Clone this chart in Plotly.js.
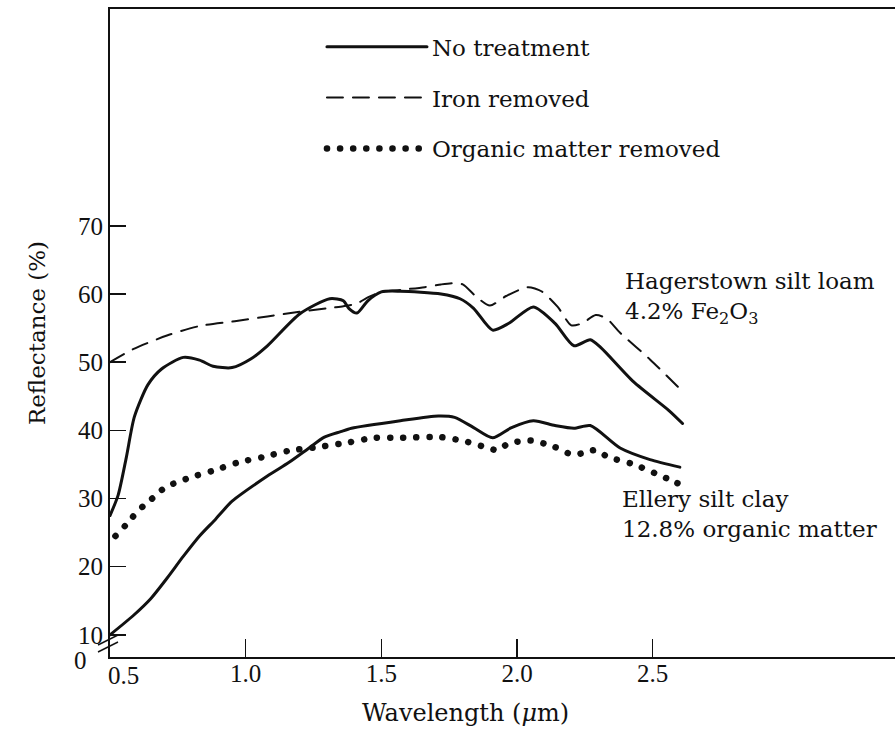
<!DOCTYPE html>
<html>
<head>
<meta charset="utf-8">
<script src="https://cdn.plot.ly/plotly-3.0.1.min.js"></script>
<style>
  body { margin: 0; background: #fff; }
  .trace path.js-line, .legendlines path { stroke-linecap: round; stroke-linejoin: round; }
</style>
</head>
<body>
<div id="plot" style="width:895px;height:732px;"></div>
<script>
// Hagerstown silt loam, no treatment
var hagerNoneX = [0.50, 0.53, 0.56, 0.59, 0.64, 0.69, 0.77, 0.83, 0.88, 0.95, 1.02, 1.08, 1.20, 1.31, 1.36, 1.38, 1.41, 1.45, 1.50, 1.57, 1.72, 1.79, 1.84, 1.91, 1.97, 2.06, 2.14, 2.21, 2.27, 2.31, 2.43, 2.56, 2.61];
var hagerNoneY = [27.5, 30.5, 36, 42, 46.7, 49, 50.7, 50.3, 49.4, 49.2, 50.5, 52.4, 57.1, 59.3, 59, 57.9, 57.2, 59, 60.3, 60.4, 60, 59.3, 57.9, 54.7, 55.7, 58.1, 55.7, 52.4, 53.3, 52.1, 47.1, 42.9, 41];

// Hagerstown silt loam, iron removed
var hagerIronX = [0.50, 0.585, 0.71, 0.83, 0.96, 1.08, 1.20, 1.32, 1.36, 1.41, 1.45, 1.50, 1.57, 1.66, 1.72, 1.77, 1.80, 1.85, 1.90, 1.96, 2.04, 2.09, 2.15, 2.20, 2.24, 2.29, 2.33, 2.38, 2.49, 2.61];
var hagerIronY = [50, 51.9, 53.9, 55.3, 56, 56.7, 57.4, 58, 58.2, 58.6, 59.5, 60.3, 60.6, 61, 61.4, 61.6, 61.4, 59.6, 58.3, 59.7, 61, 60.4, 58.1, 55.4, 55.7, 56.9, 56.4, 54.3, 50.4, 45.7];

// Ellery silt clay, no treatment
var elleryNoneX = [0.50, 0.585, 0.65, 0.71, 0.77, 0.83, 0.89, 0.95, 1.08, 1.16, 1.23, 1.29, 1.35, 1.39, 1.57, 1.71, 1.77, 1.84, 1.91, 1.98, 2.06, 2.14, 2.21, 2.27, 2.38, 2.49, 2.60];
var elleryNoneY = [10, 12.8, 15.3, 18.3, 21.5, 24.5, 27, 29.6, 33.3, 35.3, 37.3, 39, 39.8, 40.3, 41.4, 42.1, 41.9, 40.4, 38.9, 40.4, 41.4, 40.7, 40.3, 40.7, 37.4, 35.7, 34.6];

// Ellery silt clay, organic matter removed
var elleryOrgX = [0.52, 0.558, 0.595, 0.628, 0.668, 0.705, 0.75, 0.797, 0.882, 0.974, 1.067, 1.159, 1.277, 1.376, 1.472, 1.571, 1.719, 1.818, 1.877, 1.929, 1.966, 2.05, 2.136, 2.206, 2.246, 2.29, 2.335, 2.43, 2.555, 2.615];
var elleryOrgY = [24.5, 26.1, 27.8, 29.1, 30.4, 31.7, 32.4, 33.1, 34.1, 35.3, 36.1, 37, 37.6, 38.2, 38.9, 38.9, 39, 38.3, 37.6, 37.1, 38, 38.5, 37.6, 36.4, 36.7, 37.1, 36.1, 35, 32.9, 31.8];

var xTicks = [1.0, 1.5, 2.0, 2.5];
var xTickText = ["1.0", "1.5", "2.0", "2.5"];
var yTicks = [10, 20, 30, 40, 50, 60, 70];

var ink = "#111";
var serif = "DejaVu Serif, serif";
var digits = "Liberation Serif, serif";

var traces = [
  {x: hagerNoneX, y: hagerNoneY, name: "No treatment", legendgroup: "a",
   mode: "lines", line: {color: ink, width: 3, shape: "spline", smoothing: 0.7}},
  {x: elleryNoneX, y: elleryNoneY, name: "No treatment", legendgroup: "a", showlegend: false,
   mode: "lines", line: {color: ink, width: 3, shape: "spline", smoothing: 0.7}},
  {x: hagerIronX, y: hagerIronY, name: "Iron removed", legendgroup: "b",
   mode: "lines", line: {color: ink, width: 2, dash: "16px,10px", shape: "spline", smoothing: 0.7}},
  {x: elleryOrgX, y: elleryOrgY, name: "Organic matter removed", legendgroup: "c",
   mode: "lines", line: {color: ink, width: 6.5, dash: "0.1px,13px", shape: "spline", smoothing: 0.7}}
];

var layout = {
  width: 895, height: 732,
  margin: {l: 110, r: 0, t: 9, b: 75},
  paper_bgcolor: "#fff", plot_bgcolor: "#fff",
  font: {family: serif, color: ink},
  showlegend: true,
  legend: {x: 0.27, y: 0.975, xanchor: "left", yanchor: "top",
           itemwidth: 100, tracegroupgap: 18, bgcolor: "rgba(0,0,0,0)",
           font: {family: serif, size: 23, color: ink}},
  xaxis: {range: [0.5, 3.393], tickvals: xTicks, ticktext: xTickText,
          ticks: "inside", ticklen: 18, tickwidth: 1.5, tickcolor: ink,
          showline: true, linewidth: 2, linecolor: ink, mirror: true,
          showgrid: false, zeroline: false, ticklabelstandoff: -7,
          tickfont: {family: digits, size: 25, color: ink}},
  yaxis: {range: [6.75, 101.8], tickvals: yTicks,
          ticks: "inside", ticklen: 16, tickwidth: 1.5, tickcolor: ink,
          showline: true, linewidth: 2, linecolor: ink,
          showgrid: false, zeroline: false,
          tickfont: {family: digits, size: 25, color: ink},
          title: {text: "Reflectance (%)", font: {family: serif, size: 23, color: ink}, standoff: 26}},
  annotations: [
    {xref: "paper", yref: "paper", x: 0.4535, y: 0, yanchor: "middle", yshift: -56, showarrow: false,
     text: "Wavelength (<i>μ</i>m)", font: {family: serif, size: 24, color: ink}},
    {x: 0.5, xref: "x", yref: "paper", y: 0, yanchor: "middle", xshift: 13, yshift: -18, showarrow: false,
     text: "0.5", font: {family: digits, size: 25, color: ink}},
    {xref: "paper", yref: "paper", x: 0, y: 0, xanchor: "right", yanchor: "middle", xshift: -21, yshift: -3, showarrow: false,
     text: "0", font: {family: digits, size: 25, color: ink}},
    {x: 2.39, y: 59.4, xanchor: "left", align: "left", showarrow: false,
     text: "Hagerstown silt loam<br>4.2% Fe<sub>2</sub>O<sub>3</sub>", font: {family: serif, size: 23, color: ink}},
    {x: 2.38, y: 27.7, xanchor: "left", align: "left", showarrow: false,
     text: "Ellery silt clay<br>12.8% organic matter", font: {family: serif, size: 23, color: ink}}
  ],
  shapes: [
    {type: "line", xref: "paper", yref: "paper", xsizemode: "pixel", ysizemode: "pixel",
     xanchor: 0, yanchor: 0, x0: -12, x1: 8, y0: 5, y1: 15, line: {color: ink, width: 1.5}},
    {type: "line", xref: "paper", yref: "paper", xsizemode: "pixel", ysizemode: "pixel",
     xanchor: 0, yanchor: 0, x0: -12, x1: 8, y0: 12, y1: 22, line: {color: ink, width: 1.5}}
  ]
};

Plotly.newPlot("plot", traces, layout, {displayModeBar: false, staticPlot: true});
</script>
</body>
</html>
